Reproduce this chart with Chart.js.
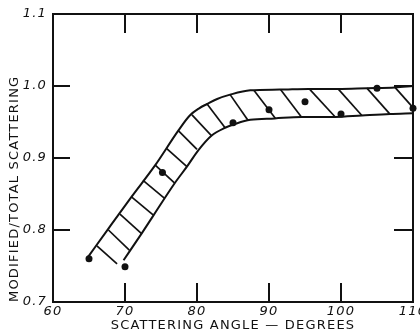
<!DOCTYPE html>
<html>
<head>
<meta charset="utf-8">
<script src="https://cdn.jsdelivr.net/npm/chart.js@4"></script>
<style>
  html, body { margin: 0; padding: 0; background: #fff; }
  #wrap { width: 420px; height: 333px; }
</style>
</head>
<body>
<div id="wrap"><canvas id="scatter-chart"></canvas></div>
<script>
// measured points
const angles = [65, 70, 75.2, 85, 90, 95, 100, 105, 110];
const ratios = [0.760, 0.749, 0.880, 0.949, 0.967, 0.978, 0.961, 0.997, 0.969];

// upper and lower edges of the shaded band
const upperX = [64.9, 67.7, 70.9, 74.2, 77.4, 79.0, 80.3, 81.4, 82.8, 84.6, 87.4, 91.5, 95.5, 99.6, 103.6, 107.5, 110];
const upperY = [0.763, 0.802, 0.846, 0.890, 0.938, 0.959, 0.969, 0.975, 0.982, 0.988, 0.994, 0.995, 0.996, 0.996, 0.997, 0.998, 1.000];
const lowerX = [69.8, 72.3, 74.0, 76.9, 78.6, 80.2, 82.0, 83.9, 85.5, 87.4, 90.8, 94.5, 99.2, 102.9, 106.8, 110];
const lowerY = [0.758, 0.795, 0.821, 0.865, 0.888, 0.911, 0.931, 0.942, 0.948, 0.953, 0.955, 0.957, 0.957, 0.959, 0.961, 0.962];

// hatch strokes across the band (top end -> bottom end)
const hatchTopX = [66.1, 67.7, 69.3, 70.9, 72.5, 74.2, 75.8, 77.4, 79.3, 81.4, 84.6, 87.9, 91.6, 95.6, 99.6, 103.6, 107.5];
const hatchTopY = [0.778, 0.800, 0.822, 0.846, 0.869, 0.890, 0.913, 0.938, 0.960, 0.975, 0.988, 0.994, 0.995, 0.996, 0.996, 0.997, 0.998];
const hatchBotX = [68.9, 70.6, 72.3, 73.9, 75.5, 76.9, 78.6, 80.0, 82.0, 83.9, 87.1, 90.9, 94.5, 99.2, 102.9, 106.8, 110];
const hatchBotY = [0.753, 0.772, 0.795, 0.821, 0.844, 0.865, 0.888, 0.912, 0.931, 0.942, 0.952, 0.955, 0.957, 0.957, 0.959, 0.961, 0.970];

const xTicks = [60, 70, 80, 90, 100, 110];
const yTicks = [0.7, 0.8, 0.9, 1.0, 1.1];

const INK = '#111';
const toPts = (xs, ys) => xs.map((x, i) => ({ x: x, y: ys[i] }));

const datasets = [
    {
        label: 'points',
        data: toPts(angles, ratios),
        pointRadius: 3.5,
        pointBackgroundColor: INK,
        pointBorderWidth: 0,
        showLine: false,
        clip: false
    },
    {
        label: 'upper',
        data: toPts(upperX, upperY),
        showLine: true,
        borderColor: INK,
        borderWidth: 2,
        pointRadius: 0,
        cubicInterpolationMode: 'monotone'
    },
    {
        label: 'lower',
        data: toPts(lowerX, lowerY),
        showLine: true,
        borderColor: INK,
        borderWidth: 2,
        pointRadius: 0,
        cubicInterpolationMode: 'monotone'
    }
];

hatchTopX.forEach((x, i) => {
    datasets.push({
        label: 'hatch' + i,
        data: [{ x: x, y: hatchTopY[i] }, { x: hatchBotX[i], y: hatchBotY[i] }],
        showLine: true,
        borderColor: INK,
        borderWidth: 1.7,
        pointRadius: 0
    });
});

// wider lettering, like the hand-drawn labels
const spacing = {
    id: 'spacing',
    beforeDraw(chart) { chart.ctx.letterSpacing = '1.2px'; },
    afterDraw(chart) { chart.ctx.letterSpacing = '0px'; }
};

// frame plus inward tick marks on all four sides
const frameTicks = {
    id: 'frameTicks',
    afterDatasetsDraw(chart) {
        const { ctx, chartArea: a, scales: { x, y } } = chart;
        ctx.save();
        ctx.strokeStyle = INK;
        ctx.lineWidth = 2;
        ctx.strokeRect(a.left, a.top, a.right - a.left, a.bottom - a.top);
        const seg = (x1, y1, x2, y2) => {
            ctx.beginPath();
            ctx.moveTo(x1, y1);
            ctx.lineTo(x2, y2);
            ctx.stroke();
        };
        xTicks.slice(1, -1).forEach(v => {
            const px = x.getPixelForValue(v);
            seg(px, a.top, px, a.top + 19);
            seg(px, a.bottom, px, a.bottom - 19);
        });
        yTicks.slice(1, -1).forEach(v => {
            const py = y.getPixelForValue(v);
            seg(a.left, py, a.left + 17, py);
            seg(a.right, py, a.right - 19, py);
        });
        ctx.restore();
    }
};

const ctx = document.getElementById('scatter-chart').getContext('2d');
new Chart(ctx, {
    type: 'scatter',
    data: { datasets: datasets },
    options: {
        responsive: true,
        maintainAspectRatio: false,
        animation: false,
        layout: { padding: { top: 14, right: 7, left: 0, bottom: 0 } },
        plugins: {
            legend: { display: false },
            tooltip: { enabled: false }
        },
        scales: {
            x: {
                type: 'linear',
                min: 60,
                max: 110,
                afterBuildTicks: s => { s.ticks = xTicks.map(v => ({ value: v })); },
                afterFit: s => { s.height = 31; s.paddingLeft = 0; s.paddingRight = 0; },
                grid: { display: false, drawTicks: false },
                border: { display: false },
                ticks: {
                    color: INK,
                    padding: 2,
                    maxRotation: 0,
                    font: { family: 'DejaVu Sans', size: 13, style: 'italic' }
                },
                title: {
                    display: true,
                    text: 'SCATTERING ANGLE — DEGREES',
                    color: INK,
                    padding: { top: 0, bottom: 0 },
                    font: { family: 'DejaVu Sans', size: 13 }
                }
            },
            y: {
                type: 'linear',
                min: 0.7,
                max: 1.1,
                afterBuildTicks: s => { s.ticks = yTicks.map(v => ({ value: v })); },
                afterFit: s => { s.width = 53; s.paddingTop = 0; s.paddingBottom = 0; },
                grid: { display: false, drawTicks: false },
                border: { display: false },
                ticks: {
                    color: INK,
                    padding: 6,
                    callback: v => v.toFixed(1),
                    font: { family: 'DejaVu Sans', size: 13, style: 'italic' }
                },
                title: {
                    display: true,
                    text: 'MODIFIED/TOTAL SCATTERING',
                    align: 'start',
                    color: INK,
                    padding: { top: 7, bottom: 0 },
                    font: { family: 'DejaVu Sans', size: 13 }
                }
            }
        }
    },
    plugins: [spacing, frameTicks]
});
</script>
</body>
</html>
